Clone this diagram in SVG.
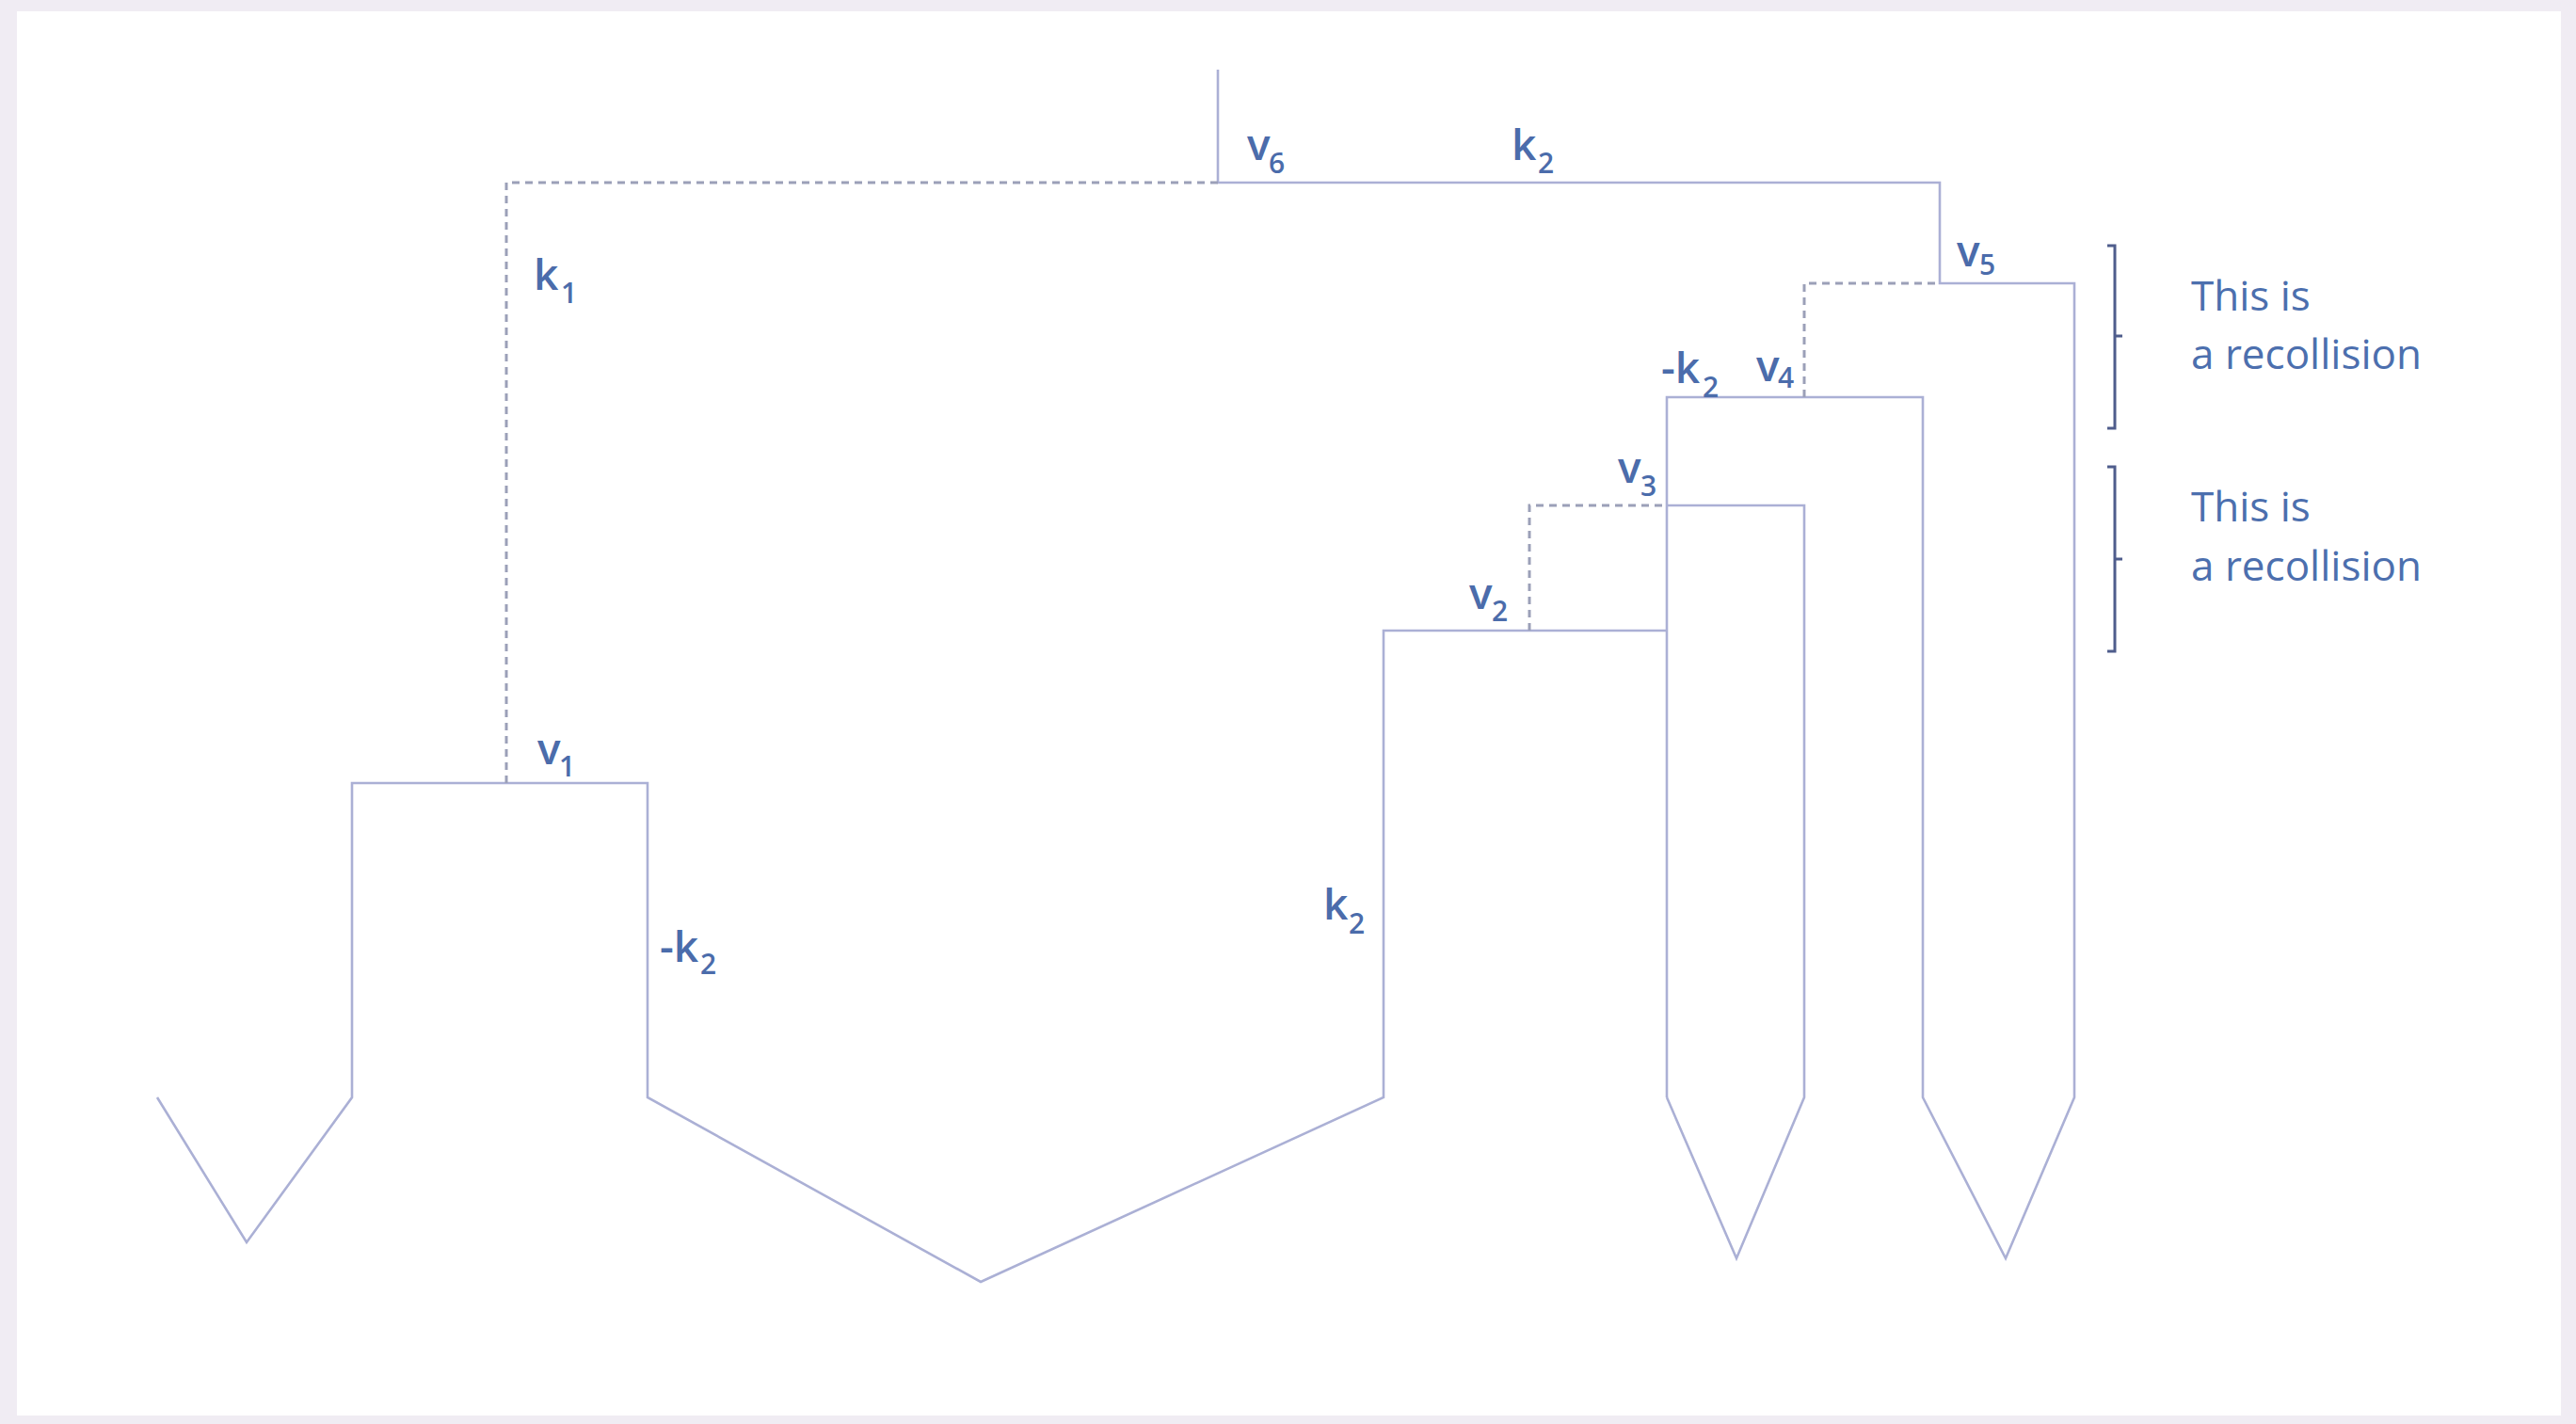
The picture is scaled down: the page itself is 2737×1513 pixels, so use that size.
<svg xmlns="http://www.w3.org/2000/svg" width="2737" height="1513" viewBox="0 0 2737 1513">
<style>
.ln{fill:none;stroke:#abb0d5;stroke-width:2.6;stroke-linejoin:miter}
.dl{fill:none;stroke:#9ba0b8;stroke-width:3;stroke-dasharray:8 6}
.br{fill:none;stroke:#4f5d8c;stroke-width:3}
.lb{font-family:"Open Sans","Liberation Sans",sans-serif;font-size:46px;font-weight:600;fill:#4b6cab}
.sb{font-family:"Open Sans","Liberation Sans",sans-serif;font-size:30px;font-weight:600;fill:#4b6cab}
.an{font-family:"Open Sans","Liberation Sans",sans-serif;font-size:44px;font-weight:500;fill:#4c6fae}
</style>
<rect x="0" y="0" width="2737" height="1513" fill="#f0ecf3"/>
<rect x="18" y="12" width="2703" height="1492" fill="#ffffff"/>
<g id="connectors">
<path class="ln" d="M167,1166 L262,1320 L374,1166 V832 H688 V1166 L1042,1362 L1470,1166 V670 H1771"/>
<path class="ln" d="M1771,1166 V422 H2043 V1166 L2131,1337 L2204,1166 V301 H2061 V194 H1294 V74"/>
<path class="ln" d="M1771,537 H1917 V1166 L1845,1337 L1771,1166"/>
<path class="dl" d="M538,832 V194 H1294"/>
<path class="dl" d="M1625,670 V537 H1771"/>
<path class="dl" d="M1917,422 V301 H2061"/>
</g>
<g id="v6"><text class="lb" x="1325" y="170">v</text><text class="sb" x="1348" y="184">6</text></g>
<g id="k2-top"><text class="lb" x="1606" y="170">k</text><text class="sb" x="1634" y="184">2</text></g>
<g id="v5"><text class="lb" x="2079" y="283">v</text><text class="sb" x="2103" y="292">5</text></g>
<g id="mk2-v4"><text class="lb" x="1765" y="407">-k</text><text class="sb" x="1809" y="422">2</text></g>
<g id="v4"><text class="lb" x="1866" y="405">v</text><text class="sb" x="1889" y="412">4</text></g>
<g id="v3"><text class="lb" x="1719" y="513">v</text><text class="sb" x="1743" y="527">3</text></g>
<g id="v2"><text class="lb" x="1561" y="647">v</text><text class="sb" x="1585" y="660">2</text></g>
<g id="v1"><text class="lb" x="571" y="812">v</text><text class="sb" x="594" y="825">1</text></g>
<g id="k1"><text class="lb" x="567" y="308">k</text><text class="sb" x="596" y="322">1</text></g>
<g id="mk2-left"><text class="lb" x="701" y="1022">-k</text><text class="sb" x="744" y="1035">2</text></g>
<g id="k2-mid"><text class="lb" x="1406" y="977">k</text><text class="sb" x="1433" y="992">2</text></g>
<g id="recollision-1">
<path class="br" d="M2239,261 H2247 V455 H2239 M2247,357 H2255"/>
<text class="an" x="2328" y="330">This is</text>
<text class="an" x="2328" y="392">a recollision</text>
</g>
<g id="recollision-2">
<path class="br" d="M2239,496 H2247 V692 H2239 M2247,594 H2255"/>
<text class="an" x="2328" y="554">This is</text>
<text class="an" x="2328" y="617">a recollision</text>
</g>
</svg>
